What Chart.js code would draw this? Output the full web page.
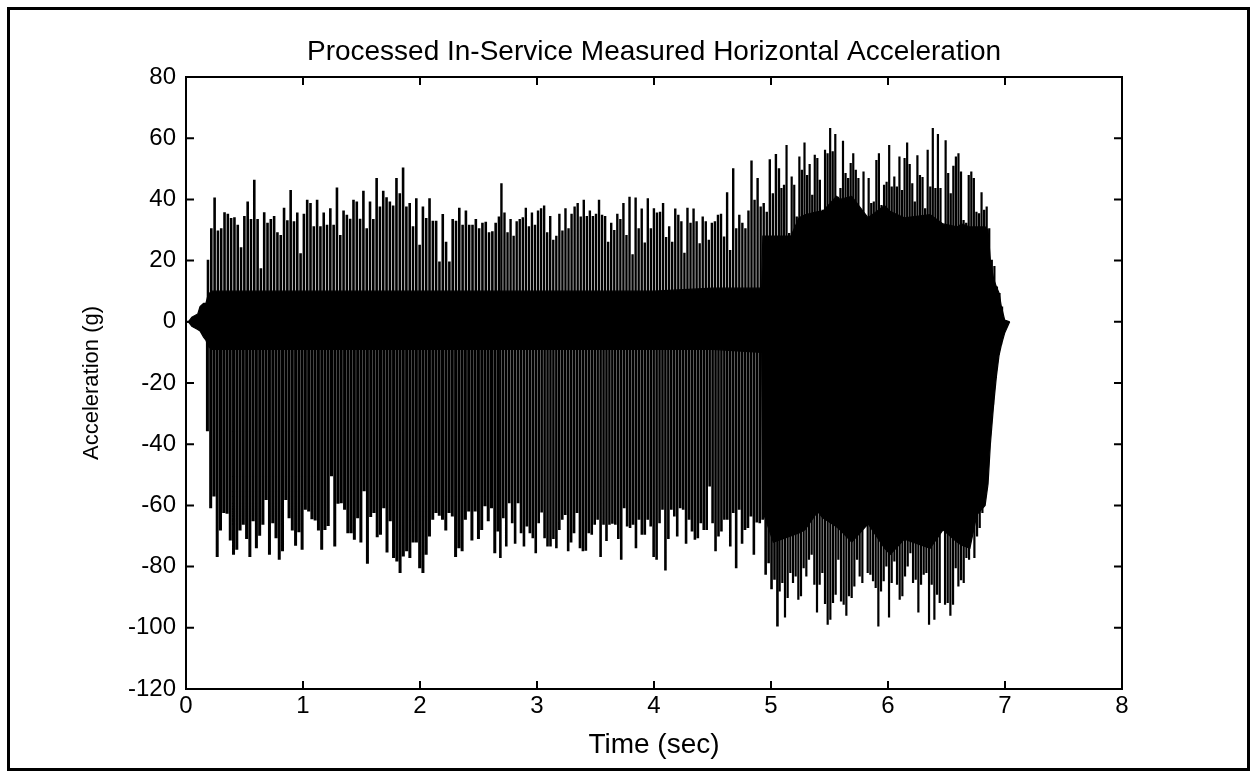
<!DOCTYPE html>
<html lang="en">
<head>
  <meta charset="UTF-8" />
  <title>Processed In-Service Measured Horizontal Acceleration</title>
  <style>
    html, body { margin: 0; padding: 0; background: #fff; }
    #wrap { position: absolute; left: 0; top: 0; width: 1251px; height: 772px; }
  </style>
</head>
<body>
  <div id="wrap"><canvas id="accChart"></canvas></div>

  <script src="https://cdn.jsdelivr.net/npm/chart.js"></script>
  <script>
    // dense core of the record (time in sec, acceleration in g)
    const coreTimes = [0, 0.02, 0.05, 0.1, 0.12, 0.15, 0.17, 0.19, 0.22, 1, 2, 3, 4, 4.5, 4.92, 4.93,
                       5.02, 5.17, 5.24, 5.29, 5.4, 5.44, 5.56, 5.59, 5.69, 5.83, 5.9, 5.97, 6.02, 6.14,
                       6.36, 6.47, 6.59, 6.63, 6.7, 6.76, 6.83, 6.855, 6.875, 6.903, 6.926, 6.949, 6.969, 6.997, 7.04];
    const coreUpper = [0, 0, 1.5, 2.5, 5, 6, 6, 9, 10, 10, 10, 10, 10, 11, 11, 28,
                       28, 28, 34, 35, 36, 36, 41, 40, 41, 34, 36, 38, 36, 34,
                       35, 32, 31, 32, 31, 31, 31, 30, 20, 14, 11.5, 9.4, 5, 0.6, 0];
    const coreLower = [0, 0, -1.5, -2.5, -3, -5, -6, -8, -9, -9, -9, -9, -9, -9, -10, -62,
                       -72, -70, -69, -68, -62, -64, -67, -68, -72, -66, -70, -74, -76, -71,
                       -74, -68, -72, -73, -74, -63, -60, -53, -40, -27, -18, -11, -7.5, -3.7, 0];

    // positive peaks, three stretches of the record
    const upperStart = [0.188, 2.696, 5.089];
    const upperEnd = [2.675, 5.068, 6.997];
    const upperPeaks1 = [
      20.3, 30.6, 40.6, 29.8, 30.6, 35.8, 35.3, 33.9, 34.2, 31.7,
      24.4, 34.6, 39.3, 33.6, 46.4, 33.6, 17.5, 35.8, 32.4, 33.6,
      34.6, 29.3, 28.4, 37.3, 33.2, 43.1, 32.9, 35.7, 22.4, 35.3,
      39.9, 38.8, 31.2, 39.9, 31.2, 35.7, 31.7, 37.1, 31.7, 43.9,
      28.4, 36.4, 35.0, 33.7, 39.9, 39.3, 33.7, 42.8, 30.6, 39.3,
      33.6, 47.0, 37.7, 42.8, 40.7, 39.3, 38.0, 47.0, 42.0, 50.4,
      37.7, 38.8, 31.2, 40.4, 25.2, 37.7, 33.9, 40.4, 33.0, 33.0,
      19.7, 35.2, 26.2, 19.7, 33.6, 33.0, 37.3, 31.7, 36.4, 31.7,
      31.7, 33.6, 30.6, 32.4, 32.7, 29.3, 29.6, 32.4, 34.4
    ];
    const upperPeaks2 = [
      45.3, 35.7, 29.3, 33.6, 28.1, 32.9, 33.6, 34.2, 37.3, 31.2,
      35.7, 31.7, 36.4, 37.1, 38.0, 29.3, 34.6, 26.8, 28.1, 35.3,
      29.8, 37.1, 30.6, 35.3, 37.7, 38.8, 34.4, 39.9, 34.6, 36.4,
      34.6, 35.3, 39.9, 35.0, 34.6, 26.2, 32.4, 30.0, 35.3, 33.6,
      38.8, 28.4, 40.9, 22.1, 40.6, 30.6, 37.0, 25.9, 40.4, 30.6,
      37.1, 35.7, 36.0, 38.8, 27.7, 31.2, 26.2, 37.0, 35.0, 32.9,
      22.6, 37.3, 32.4, 37.0, 32.9, 25.7, 34.4, 32.9, 26.8, 32.4,
      32.9, 35.0, 35.3, 27.9, 42.3, 23.5, 50.2, 30.6, 35.0, 32.4,
      30.6, 36.4, 52.7, 39.9, 47.0, 37.7, 38.8, 36.0, 53.1, 42.0,
      54.8, 50.2
    ];
    const upperPeaks3 = [
      43.7, 44.8, 57.8, 29.0, 47.5, 44.8, 34.4, 54.0, 49.7, 58.6,
      48.0, 51.6, 41.5, 54.6, 53.5, 46.4, 36.6, 56.2, 55.1, 63.3,
      55.7, 61.4, 40.9, 43.7, 59.2, 48.6, 47.0, 51.9, 55.1, 49.7,
      47.0, 33.6, 49.1, 33.9, 47.0, 38.8, 39.3, 52.9, 55.1, 38.2,
      44.8, 45.8, 57.8, 44.2, 47.5, 44.2, 54.0, 43.1, 53.5, 58.6,
      51.6, 45.3, 39.3, 54.4, 48.0, 47.3, 37.1, 56.2, 44.2, 63.3,
      43.7, 61.4, 43.7, 29.0, 59.3, 48.6, 42.0, 51.0, 54.0, 55.1,
      49.1, 33.3, 32.4, 48.0, 49.1, 47.0, 36.0, 35.5, 42.3, 36.6,
      37.7, 30.6, 20.3, 18.2, 11.5, 9.4, 5.0, 0.6
    ];

    // negative peaks
    const lowerStart = [0.183, 2.687, 5.074];
    const lowerEnd = [2.667, 5.055, 7.012];
    const lowerPeaks1 = [
      -35.8, -60.9, -57.1, -76.9, -68.2, -62.5, -62.7, -71.5, -76.1, -74.5,
      -68.2, -66.3, -71.0, -76.9, -65.2, -74.0, -69.9, -66.3, -58.2, -76.1,
      -65.8, -70.7, -77.8, -75.0, -58.2, -64.2, -68.2, -73.2, -68.8, -74.5,
      -61.4, -62.0, -64.5, -64.9, -68.2, -74.5, -68.0, -66.7, -50.5, -73.4,
      -59.5, -59.3, -61.4, -69.1, -69.1, -71.2, -64.2, -72.1, -55.4, -79.1,
      -63.8, -62.5, -70.4, -69.6, -60.9, -75.4, -65.2, -77.2, -78.3, -82.1,
      -76.7, -75.0, -77.2, -72.1, -72.1, -80.5, -82.1, -76.1, -70.2, -64.7,
      -62.5, -63.4, -64.7, -68.2, -62.5, -63.6, -76.9, -74.0, -75.0, -64.7,
      -62.0, -71.5, -62.0, -71.0, -68.0, -60.3, -65.2, -60.9, -75.6, -68.5
    ];
    const lowerPeaks2 = [
      -77.2, -64.2, -73.4, -59.3, -65.8, -72.5, -59.3, -69.1, -73.4, -66.9,
      -69.1, -70.7, -75.6, -65.8, -62.3, -70.7, -73.4, -73.4, -71.0, -74.0,
      -68.0, -64.7, -63.1, -75.0, -72.1, -69.1, -62.5, -74.0, -75.0, -74.8,
      -69.1, -69.6, -66.3, -64.7, -76.9, -66.3, -71.6, -66.3, -66.0, -66.3,
      -71.0, -77.8, -60.9, -66.9, -67.4, -66.3, -74.0, -64.7, -69.6, -69.6,
      -64.7, -66.9, -76.9, -77.8, -65.8, -61.4, -81.3, -71.0, -61.4, -63.6,
      -70.2, -60.9, -61.4, -72.5, -64.7, -68.5, -71.2, -70.7, -65.8, -68.0,
      -68.0, -53.8, -65.8, -75.0, -70.2, -68.5, -64.7, -64.7, -73.4, -62.5,
      -80.5, -61.4, -72.5, -68.0, -67.4, -63.6, -76.1, -65.6, -65.8, -64.7,
      -82.7, -78.9, -87.4, -84.3, -99.6
    ];
    const lowerPeaks3 = [
      -88.1, -85.4, -96.6, -90.3, -82.1, -85.4, -83.2, -90.8, -89.7, -80.5,
      -83.2, -77.8, -76.1, -85.9, -95.0, -85.9, -82.1, -92.2, -99.0, -97.4,
      -91.9, -89.2, -77.8, -91.4, -92.5, -96.1, -89.7, -90.3, -86.5, -77.8,
      -83.2, -85.4, -66.3, -82.1, -82.7, -84.8, -87.0, -99.6, -88.1, -84.8,
      -80.0, -96.6, -85.4, -78.3, -85.9, -90.8, -89.7, -83.2, -80.0, -75.6,
      -85.4, -84.3, -95.0, -85.9, -82.7, -82.1, -99.0, -85.9, -97.4, -89.2,
      -91.9, -66.9, -92.5, -91.9, -96.1, -92.5, -80.5, -86.5, -84.5, -85.4,
      -77.2, -77.8, -64.7, -77.2, -70.2, -67.4, -62.5, -53.8, -39.7, -33.7,
      -27.1, -18.4, -10.8, -7.5, -3.7, 0
    ];

    const xTicks = [0, 1, 2, 3, 4, 5, 6, 7, 8];
    const yTicks = [-120, -100, -80, -60, -40, -20, 0, 20, 40, 60, 80];

    const FONT = 'Liberation Sans, Arial, sans-serif';

    // each peak becomes a vertical stroke from the zero line
    function spikes(t0, t1, vals) {
      const pts = [];
      const step = (t1 - t0) / (vals.length - 1);
      vals.forEach((v, i) => {
        const t = t0 + i * step;
        pts.push({ x: t, y: 0 }, { x: t, y: v }, { x: t, y: 0 });
      });
      return pts;
    }

    function spikeSet(pts, width) {
      return { data: pts, borderColor: '#000', borderWidth: width, pointRadius: 0, fill: false,
               borderCapStyle: 'butt', tension: 0 };
    }

    const upperGroups = [upperPeaks1, upperPeaks2, upperPeaks3];
    const lowerGroups = [lowerPeaks1, lowerPeaks2, lowerPeaks3];
    const upWidth = [2.6, 2.4, 2.2];
    const lowWidth = [3.0, 2.6, 2.2];

    const datasets = [
      { data: coreTimes.map((t, i) => ({ x: t, y: coreUpper[i] })), borderColor: '#000', backgroundColor: '#000',
        borderWidth: 1.2, pointRadius: 0, fill: '+1' },
      { data: coreTimes.map((t, i) => ({ x: t, y: coreLower[i] })), borderColor: '#000',
        borderWidth: 1.2, pointRadius: 0, fill: false }
    ];
    upperGroups.forEach((g, i) => datasets.push(spikeSet(spikes(upperStart[i], upperEnd[i], g), upWidth[i])));
    lowerGroups.forEach((g, i) => datasets.push(spikeSet(spikes(lowerStart[i], lowerEnd[i], g), lowWidth[i])));

    // matlab style box, inward ticks on all four sides, outer frame
    const matlabBox = {
      id: 'matlabBox',
      afterDraw(chart) {
        const { ctx, chartArea: a, scales } = chart;
        ctx.save();
        ctx.strokeStyle = '#000';
        ctx.lineWidth = 2;
        ctx.strokeRect(a.left, a.top, a.right - a.left, a.bottom - a.top);
        const tl = 8;
        ctx.beginPath();
        xTicks.forEach(v => {
          const px = scales.x.getPixelForValue(v);
          ctx.moveTo(px, a.bottom); ctx.lineTo(px, a.bottom - tl);
          ctx.moveTo(px, a.top); ctx.lineTo(px, a.top + tl);
        });
        yTicks.forEach(v => {
          const py = scales.y.getPixelForValue(v);
          ctx.moveTo(a.left, py); ctx.lineTo(a.left + tl, py);
          ctx.moveTo(a.right, py); ctx.lineTo(a.right - tl, py);
        });
        ctx.stroke();
        ctx.lineWidth = 3;
        ctx.strokeRect(8.5, 8.5, 1240, 761);
        ctx.restore();
      }
    };

    new Chart(document.getElementById('accChart'), {
      type: 'line',
      data: { datasets: datasets },
      options: {
        responsive: true,
        maintainAspectRatio: false,
        animation: false,
        events: [],
        layout: { padding: { left: 0, right: 129, top: 0, bottom: 0 } },
        plugins: {
          legend: { display: false },
          tooltip: { enabled: false },
          title: {
            display: true,
            fullSize: false,
            text: 'Processed In-Service Measured Horizontal Acceleration',
            color: '#000',
            font: { family: FONT, size: 28, weight: 'normal' },
            padding: { top: 35.2, bottom: 8.2 }
          }
        },
        scales: {
          x: {
            type: 'linear', min: 0, max: 8, offset: false,
            afterBuildTicks: s => { s.ticks = xTicks.map(v => ({ value: v })); },
            afterFit: s => { s.height = 83; },
            grid: { display: false, drawTicks: false },
            border: { display: false },
            ticks: { color: '#000', padding: 3, font: { family: FONT, size: 24 } },
            title: { display: true, text: 'Time (sec)', color: '#000', padding: { top: 0, bottom: 10.2 },
                     font: { family: FONT, size: 28 } }
          },
          y: {
            type: 'linear', min: -120, max: 80,
            afterBuildTicks: s => { s.ticks = yTicks.map(v => ({ value: v })); },
            afterFit: s => { s.width = 186; },
            grid: { display: false, drawTicks: false },
            border: { display: false },
            ticks: { color: '#000', padding: 10, font: { family: FONT, size: 24 } },
            title: { display: true, text: 'Acceleration (g)', color: '#000', padding: { top: 78.8, bottom: 0 },
                     font: { family: FONT, size: 22 } }
          }
        }
      },
      plugins: [matlabBox]
    });
  </script>
</body>
</html>
